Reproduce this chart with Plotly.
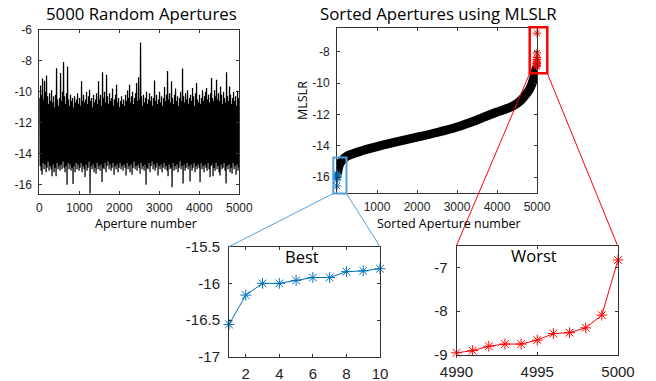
import plotly.graph_objects as go

W, H = 656, 381

# ---------------- data ----------------
# 5000 random apertures, summarised per 25-aperture column (max and min)
BIN = 25
col_max = [
    -10.4, -9.6, -10.2, -9.15, -10.5, -9.3, -10.0, -8.95, -10.3, -10.8, -10.1, -10.6, -9.9, -10.7, -10.3, -11.0, -10.2, -8.49, -10.5, -10.9,
    -10.4, -8.8, -10.6, -10.0, -8.09, -10.3, -10.8, -10.1, -8.38, -10.5, -10.9, -10.2, -10.6, -10.4, -11.0, -10.3, -10.7, -10.5, -10.1, -10.8,
    -10.4, -10.9, -9.33, -10.6, -10.2, -10.7, -10.5, -10.0, -10.8, -10.3, -9.87, -10.6, -10.4, -11.0, -10.2, -10.7, -10.5, -10.1, -10.8, -9.33,
    -10.5, -10.2, -10.9, -8.75, -10.4, -10.0, -10.7, -8.9, -10.3, -10.8, -10.1, -10.6, -10.4, -9.8, -10.9, -10.5, -10.2, -9.55, -10.7, -10.4,
    -11.0, -10.6, -10.3, -10.8, -10.5, -10.9, -10.2, -10.6, -9.9, -10.4, -9.55, -10.7, -10.3, -10.0, -10.8, -10.4, -10.1, -9.44, -10.6, -9.07,
    -10.5, -6.83, -10.3, -10.9, -10.2, -10.7, -10.4, -10.0, -10.8, -10.5, -10.1, -10.6, -10.3, -10.9, -10.4, -9.27, -10.6, -10.2, -10.8, -10.5,
    -10.0, -10.7, -10.3, -10.9, -10.4, -9.7, -10.6, -10.2, -8.66, -10.5, -10.1, -10.7, -9.33, -10.4, -10.8, -10.2, -9.8, -10.6, -10.3, -10.9,
    -10.4, -10.0, -10.6, -8.51, -10.3, -10.7, -10.1, -10.5, -9.9, -10.8, -10.4, -10.2, -10.6, -9.76, -10.3, -10.9, -10.1, -9.44, -10.5, -10.7,
    -10.2, -10.8, -10.4, -9.9, -10.6, -10.3, -10.0, -9.76, -10.5, -10.2, -10.7, -10.1, -9.12, -10.4, -10.6, -9.9, -10.3, -9.23, -10.5, -10.1,
    -10.6, -9.66, -10.2, -10.8, -10.0, -10.4, -10.7, -8.75, -10.3, -10.6, -9.66, -10.2, -10.8, -10.4, -10.0, -10.6, -10.3, -10.9, -9.94, -10.4,
]
col_min = [
    -14.8, -15.1, -15.35, -14.6, -15.0, -14.7, -15.2, -14.9, -14.5, -15.1, -14.8, -15.0, -15.45, -14.7, -15.2, -14.9, -15.45, -14.6, -15.0, -14.8,
    -15.1, -14.7, -15.0, -14.5, -14.9, -15.2, -14.8, -16.0, -14.6, -15.0, -14.7, -15.1, -14.9, -15.96, -14.8, -15.2, -14.6, -15.0, -14.7, -15.1,
    -14.9, -14.6, -15.2, -14.8, -15.0, -15.5, -14.7, -15.1, -14.9, -14.5, -16.56, -14.8, -15.0, -14.7, -15.2, -14.9, -15.3, -14.6, -15.0, -14.8,
    -15.1, -14.7, -15.83, -14.9, -15.0, -14.6, -15.2, -14.8, -14.5, -15.0, -14.7, -15.1, -14.9, -14.6, -15.35, -14.8, -15.0, -14.7, -15.2, -14.9,
    -14.6, -15.0, -14.8, -15.1, -14.7, -14.9, -15.4, -14.6, -15.0, -14.8, -15.2, -14.7, -15.35, -14.9, -14.5, -15.0, -14.8, -15.1, -14.7, -14.9,
    -15.3, -14.6, -15.0, -14.8, -15.1, -14.7, -16.0, -14.9, -15.0, -14.6, -15.2, -14.8, -14.5, -15.0, -14.7, -15.1, -14.9, -14.6, -15.4, -14.8,
    -15.0, -14.7, -15.2, -14.9, -14.6, -15.0, -14.8, -15.1, -15.45, -14.7, -15.0, -14.9, -16.16, -14.6, -15.1, -14.8, -15.0, -14.7, -15.2, -14.9,
    -14.5, -15.0, -14.8, -15.92, -14.7, -15.1, -14.9, -14.6, -15.0, -14.8, -15.8, -14.7, -15.1, -14.9, -14.6, -15.2, -14.8, -15.0, -14.7, -14.9,
    -15.84, -14.6, -15.0, -14.8, -15.2, -14.7, -14.9, -15.1, -14.6, -15.0, -15.5, -14.8, -14.7, -15.45, -14.9, -15.1, -14.6, -15.0, -14.8, -15.2,
    -15.4, -14.7, -15.0, -14.9, -14.6, -15.1, -15.92, -14.8, -15.0, -14.7, -15.2, -14.9, -15.3, -14.6, -15.0, -14.8, -15.35, -14.7, -15.1, -14.9,
]

# sorted curve (centre of the thick marker band)
sorted_x = [10, 30, 60, 120, 250, 575, 1000, 1400, 2000, 2500, 3000, 3500, 3742, 4000, 4325, 4500, 4600, 4700, 4800, 4867, 4920, 4950, 4975, 4990]
sorted_y = [-15.8, -15.5, -15.2, -14.95, -14.65, -14.35, -14.05, -13.8, -13.45, -13.15, -12.8, -12.35, -12.1, -11.85, -11.55, -11.3, -11.1, -10.8, -10.45, -10.1, -9.65, -9.35, -9.1, -8.95]

best_x = [1, 2, 3, 4, 5, 6, 7, 8, 9, 10]
best_y = [-16.56, -16.16, -16.0, -16.0, -15.96, -15.92, -15.92, -15.84, -15.83, -15.8]

worst_x = [4990, 4991, 4992, 4993, 4994, 4995, 4996, 4997, 4998, 4999, 5000]
worst_y = [-8.95, -8.9, -8.8, -8.75, -8.75, -8.66, -8.51, -8.49, -8.38, -8.09, -6.83]

tl_xticks = [0, 1000, 2000, 3000, 4000, 5000]
tl_yticks = [-6, -8, -10, -12, -14, -16]
tr_xticks = [1000, 2000, 3000, 4000, 5000]
tr_yticks = [-8, -10, -12, -14, -16]
best_xticks = [2, 4, 6, 8, 10]
best_yticks = [-15.5, -16, -16.5, -17]
worst_xticks = [4990, 4995, 5000]
worst_yticks = [-7, -8, -9]

# ---------------- styling ----------------
BLUE = "#0072BD"
LBLUE = "#55A0DC"
RED = "#FF0000"
AX = "#333333"
TICKFONT = "Liberation Sans, Arial, sans-serif"
TXTFONT = "Open Sans, sans-serif"


def px(x):
    return x / W


def py(y):
    return 1 - y / H


zx, zy = [], []
for i, (hi, lo) in enumerate(zip(col_max, col_min)):
    zx += [i * BIN + 6, i * BIN + 19]
    zy += [hi, lo]


def star(color, size):
    return dict(symbol="asterisk-open", size=size, color=color, line=dict(color=color, width=1))


fig = go.Figure()
fig.add_trace(go.Scatter(x=zx, y=zy, mode="lines", line=dict(color="black", width=1.25),
                         xaxis="x", yaxis="y", showlegend=False))
fig.add_trace(go.Scatter(x=sorted_x, y=sorted_y, mode="lines", line=dict(color="black", width=9, shape="spline", smoothing=0.6),
                         xaxis="x2", yaxis="y2", showlegend=False, cliponaxis=False))
fig.add_trace(go.Scatter(x=best_x, y=best_y, mode="markers", marker=star(BLUE, 7),
                         xaxis="x2", yaxis="y2", showlegend=False, cliponaxis=False))
fig.add_trace(go.Scatter(x=worst_x, y=worst_y, mode="markers", marker=star(RED, 7),
                         xaxis="x2", yaxis="y2", showlegend=False, cliponaxis=False))
fig.add_trace(go.Scatter(x=best_x, y=best_y, mode="lines+markers", line=dict(color=BLUE, width=1),
                         marker=star(BLUE, 9), xaxis="x3", yaxis="y3", showlegend=False, cliponaxis=False))
fig.add_trace(go.Scatter(x=worst_x, y=worst_y, mode="lines+markers", line=dict(color=RED, width=1),
                         marker=star(RED, 9), xaxis="x4", yaxis="y4", showlegend=False, cliponaxis=False))


def axis(domain, rng, ticks, size, anchor, standoff):
    return dict(domain=domain, range=rng, tickvals=ticks, ticktext=[f"{t:g}" for t in ticks],
                showgrid=False, zeroline=False, showline=True, linecolor=AX, linewidth=1,
                mirror="allticks", ticks="inside", ticklen=3, tickcolor=AX, tickwidth=1,
                tickfont=dict(family=TICKFONT, size=size, color="#222222"), anchor=anchor,
                ticklabelstandoff=standoff, automargin=False)


fig.update_layout(
    template="none",
    width=W, height=H, autosize=False, margin=dict(l=0, r=0, t=0, b=0, pad=0),
    paper_bgcolor="white", plot_bgcolor="white", showlegend=False,
    xaxis=axis([px(39.3), px(239.3)], [0, 5000], tl_xticks, 12, "y", 3),
    yaxis=axis([py(194), py(29.7)], [-16.6, -6], tl_yticks, 12, "x", 4),
    xaxis2=axis([px(337), px(537)], [0, 5000], tr_xticks, 12, "y2", 3),
    yaxis2=axis([py(193), py(28)], [-17, -6.5], tr_yticks, 12, "x2", 4),
    xaxis3=axis([px(229), px(380)], [1, 10], best_xticks, 15, "y3", 3),
    yaxis3=axis([py(356.7), py(246.7)], [-17, -15.5], best_yticks, 15, "x3", 5),
    xaxis4=axis([px(456.5), px(618)], [4990, 5000], worst_xticks, 15, "y4", 3),
    yaxis4=axis([py(355), py(245.5)], [-9, -6.5], worst_yticks, 15, "x4", 5),
)


def ann(text, x, y, size, angle=0):
    return dict(text=text, x=px(x), y=py(y), xref="paper", yref="paper", showarrow=False,
                xanchor="center", yanchor="middle", textangle=angle,
                font=dict(family=TXTFONT, size=size, color="black"))


fig.update_layout(annotations=[
    ann("5000 Random Apertures", 141, 13, 16.8),
    ann("Sorted Apertures using MLSLR", 438, 13, 16.8),
    ann("Aperture number", 146, 223, 12.5),
    ann("Sorted Aperture number", 449, 223, 12.5),
    ann("MLSLR", 302, 101, 12.5, -90),
    ann("Best", 302, 256, 16.5),
    ann("Worst", 534, 255, 16.5),
])


def line(x0, y0, x1, y1, color, width):
    return dict(type="line", xref="paper", yref="paper", x0=px(x0), y0=py(y0), x1=px(x1), y1=py(y1),
                line=dict(color=color, width=width), layer="above")


def rect(x0, y0, x1, y1, color, width):
    return dict(type="rect", xref="paper", yref="paper", x0=px(x0), y0=py(y0), x1=px(x1), y1=py(y1),
                line=dict(color=color, width=width), layer="above")


fig.update_layout(shapes=[
    rect(333.3, 157.5, 346.5, 193.5, LBLUE, 2),
    line(333.3, 193.5, 229, 246.7, LBLUE, 1),
    line(346.5, 193.5, 380, 246.7, LBLUE, 1),
    rect(529.7, 27.2, 547.3, 73.3, RED, 2.5),
    line(529.7, 73.3, 456.5, 245.5, RED, 1),
    line(547.3, 73.3, 617.5, 245.5, RED, 1),
])

fig.write_html("out.html", config={"displayModeBar": False},
               post_script="document.body.style.margin='0';document.body.style.overflow='hidden';")
